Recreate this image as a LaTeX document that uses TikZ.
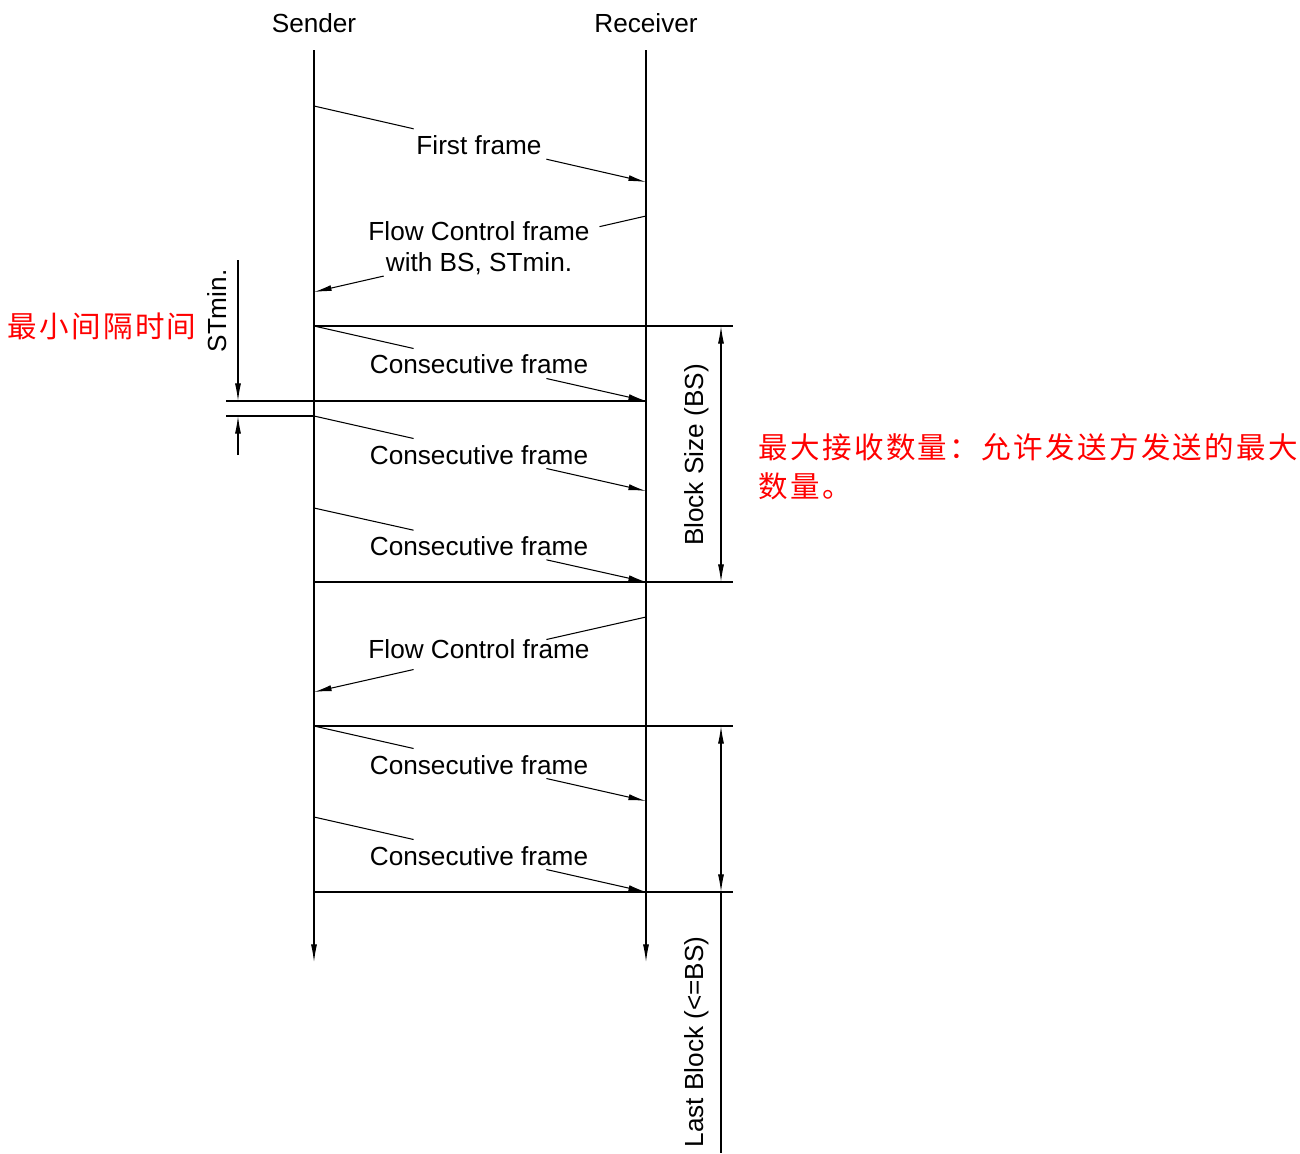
\documentclass[tikz,border=0pt]{standalone}
\usepackage{fontspec}
\setmainfont{Liberation Sans}
\newfontfamily\cjk[LetterSpace=8]{Noto Sans CJK SC}
\usetikzlibrary{arrows.meta,calc}

\begin{document}
\begin{tikzpicture}[x=0.02cm, y=-0.02cm, line width=0.6pt,
    >={Latex[length=10pt,width=3.4pt]},
    lbl/.style={font=\fontsize{14.9}{17.6}\selectfont, inner sep=0pt},
    note/.style={text=red, font=\cjk\fontsize{16.8}{22}\selectfont, align=left, inner sep=0pt}]
  \useasboundingbox (0,0) rectangle (1300,1153);

  % Lifelines
  \node[lbl] (sender) at (314,23) {Sender};
  \node[lbl] (receiver) at (646,23) {Receiver};
  \coordinate (S0) at (314,50);
  \coordinate (S1) at (314,962);
  \coordinate (R0) at (646,50);
  \coordinate (R1) at (646,962);
  \draw[->] (S0) -- (S1);
  \draw[->] (R0) -- (R1);

  % Define the end points of the frames
  \coordinate (s1) at (314,106);
  \coordinate (r1) at (646,182);
  \coordinate (r2) at (646,216);
  \coordinate (s2) at (314,292);
  \coordinate (s3) at (314,326);
  \coordinate (r3) at (646,401);
  \coordinate (s4) at (314,416);
  \coordinate (r4) at (646,491);
  \coordinate (s5) at (314,508);
  \coordinate (r5) at (646,582);
  \coordinate (r6) at (646,617);
  \coordinate (s6) at (314,692);
  \coordinate (s7) at (314,726);
  \coordinate (r7) at (646,801);
  \coordinate (s8) at (314,817);
  \coordinate (r8) at (646,892);

  % First frame
  \draw (s1) -- ($(s1)!0.3!(r1)$);
  \draw[->] ($(s1)!0.7!(r1)$) -- (r1);
  \node[lbl] (ff) at (479,145) {First frame};

  % Flow control frame with BS, STmin
  \draw (r2) -- ($(r2)!0.14!(s2)$);
  \draw[->] ($(r2)!0.79!(s2)$) -- (s2);
  \node[lbl, align=center] (fc1) at (479,248) {Flow Control frame\\with BS, STmin.};

  % Consecutive frames of the first block
  \draw (s3) -- ($(s3)!0.3!(r3)$);
  \draw[->] ($(s3)!0.7!(r3)$) -- (r3);
  \node[lbl] (cf1) at (479,364) {Consecutive frame};
  \draw (s4) -- ($(s4)!0.3!(r4)$);
  \draw[->] ($(s4)!0.7!(r4)$) -- (r4);
  \node[lbl] (cf2) at (479,455) {Consecutive frame};
  \draw (s5) -- ($(s5)!0.3!(r5)$);
  \draw[->] ($(s5)!0.7!(r5)$) -- (r5);
  \node[lbl] (cf3) at (479,546) {Consecutive frame};

  % Second flow control frame
  \draw (r6) -- ($(r6)!0.3!(s6)$);
  \draw[->] ($(r6)!0.7!(s6)$) -- (s6);
  \node[lbl] (fc2) at (479,649) {Flow Control frame};

  % Consecutive frames of the last block
  \draw (s7) -- ($(s7)!0.3!(r7)$);
  \draw[->] ($(s7)!0.7!(r7)$) -- (r7);
  \node[lbl] (cf4) at (479,765) {Consecutive frame};
  \draw (s8) -- ($(s8)!0.3!(r8)$);
  \draw[->] ($(s8)!0.7!(r8)$) -- (r8);
  \node[lbl] (cf5) at (479,856) {Consecutive frame};

  % Block borders
  \coordinate (b1) at (733,326);
  \coordinate (b2) at (733,582);
  \coordinate (b3) at (733,726);
  \coordinate (b4) at (733,892);
  \coordinate (t1) at (226,401);
  \coordinate (t2) at (226,416);
  \draw (s3) -- (b1);
  \draw (s5 |- r5) -- (b2);
  \draw (s7) -- (b3);
  \draw (s8 |- r8) -- (b4);
  \draw (t1) -- (r3);
  \draw (t2) -- (s4);

  % Block sizes
  \coordinate (d1) at (721,326);
  \coordinate (d2) at (721,582);
  \coordinate (d3) at (721,726);
  \coordinate (d4) at (721,892);
  \coordinate (d5) at (721,1153);
  \draw[<->] (d1) -- (d2);
  \draw[<->] (d3) -- (d4);
  \draw (d4) -- (d5);
  \node[lbl, rotate=90] (bs) at (697,455) {Block Size (BS)};
  \node[lbl, rotate=90] (lb) at (697,1042) {Last Block (<=BS)};

  % STmin
  \coordinate (m1) at (238,260);
  \coordinate (m2) at (238,401);
  \coordinate (m3) at (238,455);
  \coordinate (m4) at (238,416);
  \draw[->] (m1) -- (m2);
  \draw[->] (m3) -- (m4);
  \node[lbl, rotate=90] (stmin) at (217,311) {STmin.};

  % Notes
  \node[note] (gapnote) at (102,326) {最小间隔时间};
  \node[note, anchor=west] (bsnote) at (758,467) {最大接收数量：允许发送方发送的最大\\数量。};
\end{tikzpicture}
\end{document}
